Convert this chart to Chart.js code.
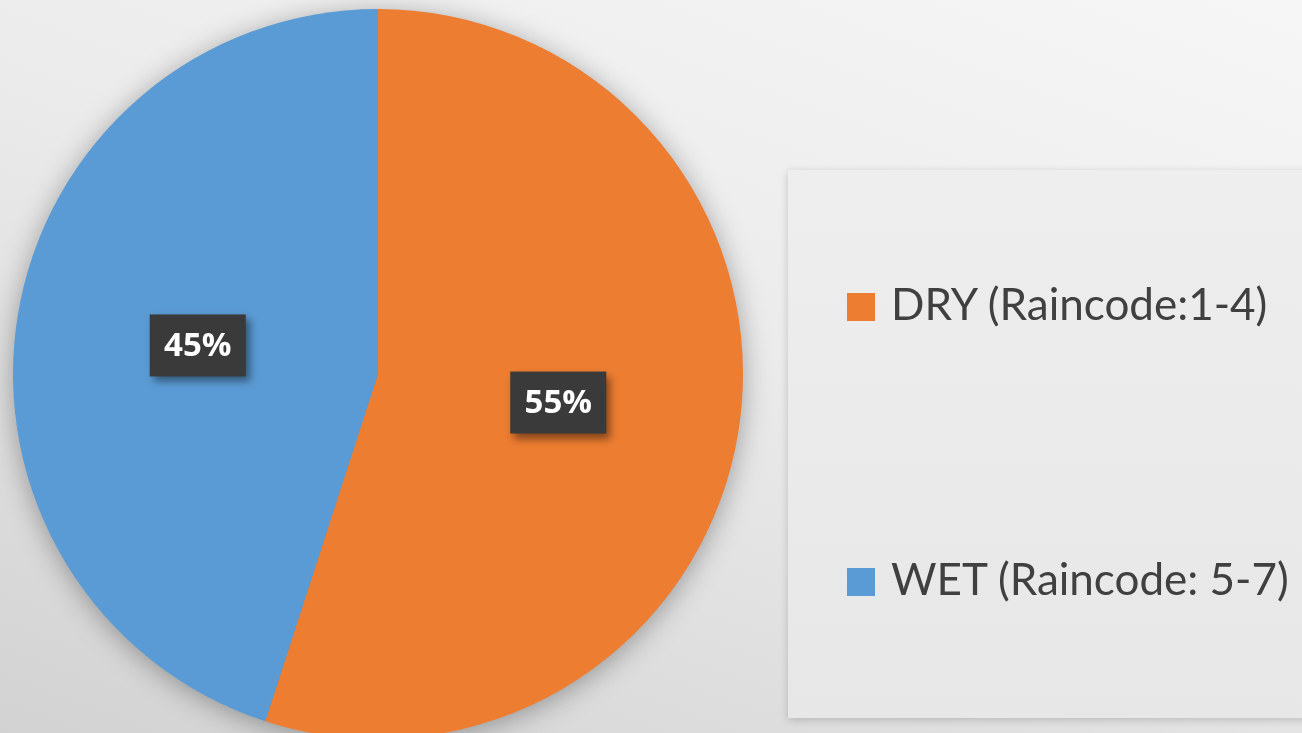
<!DOCTYPE html>
<html lang="en">
<head>
<meta charset="UTF-8">
<script src="https://cdn.jsdelivr.net/npm/chart.js"></script>
<style>
  html, body { margin: 0; padding: 0; overflow: hidden; }
  body {
    width: 1302px; height: 733px; position: relative;
    background: linear-gradient(200deg, #f6f6f6 0%, #ebebeb 45%, #d2d2d2 100%);
  }
  #panel {
    position: absolute; left: 788px; top: 170px; width: 540px; height: 548px;
    background: linear-gradient(180deg, #eeeeee 0%, #e7e7e7 100%);
    box-shadow: 0 2px 8px rgba(0,0,0,0.18);
  }
  #myChart { position: absolute; left: 0; top: 0; }
  .item { position: absolute; left: 847px; font-family: Lato, "Open Sans", sans-serif; font-size: 44px; color: #404040; white-space: nowrap; }
  .item span.box { position: absolute; left: 0; width: 28px; height: 28px; }
  .item span.txt { position: absolute; left: 44px; }
</style>
</head>
<body>
<div id="panel"></div>
<canvas id="myChart" width="1302" height="748"></canvas>
<div id="legend"></div>
<script>
    // data
    const labels = ["DRY (Raincode:1-4)", "WET (Raincode: 5-7)"]
    const values = [55, 45]
    const colors = ["#ED7D31", "#5B9BD5"]
    const legendTops = [293, 568]

    // html legend
    const legend = document.getElementById("legend")
    for (let i = 0; i < labels.length; i++) {
        const item = document.createElement("div")
        item.className = "item"
        item.style.top = legendTops[i] + "px"
        item.innerHTML = '<span class="box" style="background:' + colors[i] + '"></span>' +
            '<span class="txt" style="top:-16px">' + labels[i] + '</span>'
        legend.appendChild(item)
    }

    // soft shadow under the whole pie (one circle, so no seam between slices)
    const pieShadow = {
        id: "pieShadow",
        beforeDatasetsDraw(chart) {
            const arc = chart.getDatasetMeta(0).data[0]
            if (!arc) return
            const ctx = chart.ctx
            ctx.save()
            ctx.shadowColor = "rgba(0,0,0,0.35)"
            ctx.shadowBlur = 28
            ctx.shadowOffsetY = 4
            ctx.fillStyle = "#888888"
            ctx.beginPath()
            ctx.arc(arc.x, arc.y, arc.outerRadius - 1, 0, Math.PI * 2)
            ctx.fill()
            ctx.restore()
        }
    }

    const pctLabels = {
        id: "pctLabels",
        afterDatasetsDraw(chart) {
            const ctx = chart.ctx
            const total = values.reduce((a, b) => a + b, 0)
            chart.getDatasetMeta(0).data.forEach((arc, i) => {
                const p = arc.getCenterPoint()
                const w = 96, h = 62
                ctx.save()
                ctx.shadowColor = "rgba(0,0,0,0.45)"
                ctx.shadowBlur = 8
                ctx.shadowOffsetX = 4
                ctx.shadowOffsetY = 5
                ctx.fillStyle = "#3a3a3a"
                ctx.fillRect(p.x - w / 2, p.y - h / 2, w, h)
                ctx.restore()
                ctx.save()
                ctx.fillStyle = "#ffffff"
                ctx.font = "bold 33px 'Open Sans'"
                ctx.textAlign = "center"
                ctx.textBaseline = "middle"
                ctx.fillText(Math.round(values[i] / total * 100) + "%", p.x, p.y + 1)
                ctx.restore()
            })
        }
    }

    new Chart(document.getElementById("myChart"), {
        type: "pie",
        data: {
            labels: labels,
            datasets: [{
                data: values,
                backgroundColor: colors,
                borderWidth: 0
            }]
        },
        options: {
            responsive: false,
            animation: false,
            layout: { padding: { left: 13, top: 9, right: 559, bottom: 9 } },
            plugins: {
                legend: { display: false },
                tooltip: { enabled: false }
            }
        },
        plugins: [pieShadow, pctLabels]
    })
</script>
</body>
</html>
